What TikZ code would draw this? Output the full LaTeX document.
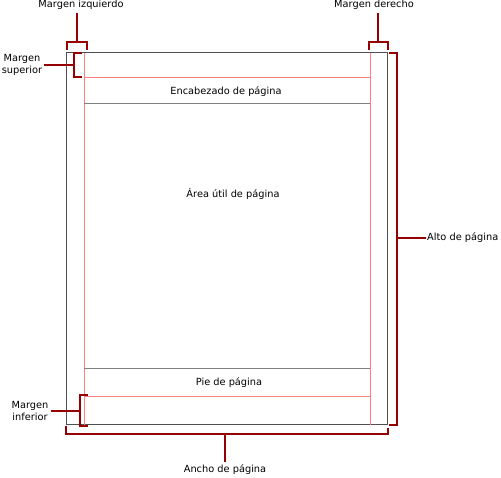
\documentclass[tikz,border=0pt]{standalone}
\usepackage{fontspec}
\setmainfont{DejaVu Sans}
\definecolor{marco}{RGB}{150,0,0}
\definecolor{guia}{RGB}{255,128,128}
\definecolor{borde}{RGB}{80,80,80}
\definecolor{linea}{RGB}{128,128,128}
\tikzset{
    lbl/.style={font=\fontsize{9.8}{12.5}\selectfont,inner sep=1pt,align=center},
    brk/.style={draw=marco,line width=2pt},
    guide/.style={draw=guia,line width=0.8pt},
}
\begin{document}
\begin{tikzpicture}[x=1pt,y=-1pt]
        \useasboundingbox (0,0) rectangle (501,478);
        % hoja y margenes
        \draw[borde,line width=1pt] (66,53) rectangle (387,425);
        \foreach \x in {84,370}
        {
            \draw[guide] (\x,53) -- (\x,425);
        }
        \foreach \y in {77,396}
        {
            \draw[guide] (84,\y) -- (370,\y);
        }
        \foreach \y in {104,369}
        {
            \draw[linea,line width=1pt] (84,\y) -- (370,\y);
        }
        \node[lbl] (enc) at (226,92) {Encabezado de página};
        \node[lbl] (area) at (233,194) {Área útil de página};
        \node[lbl] (pie) at (229,383) {Pie de página};
        % etiquetas
        \node[lbl] (izq) at (81,5) {Margen izquierdo};
        \node[lbl] (der) at (374,5) {Margen derecho};
        \node[lbl] (sup) at (22,65) {Margen\\superior};
        \node[lbl] (inf) at (30,411) {Margen\\inferior};
        \node[lbl,anchor=west] (alto) at (426,238) {Alto de página};
        \node[lbl] (ancho) at (225,470) {Ancho de página};
        % llaves
        \coordinate (cIzq) at (77,42);
        \coordinate (cDer) at (378,42);
        \coordinate (cSup) at (74,65);
        \coordinate (cInf) at (80,411);
        \coordinate (cAlto) at (397,238);
        \coordinate (cAncho) at (225,434);
        \draw[brk] (67,50) -- (67,42) -- (87,42) -- (87,50);
        \draw[brk] (369,50) -- (369,42) -- (388,42) -- (388,50);
        \draw[brk] (82,53) -- (74,53) -- (74,77) -- (82,77);
        \draw[brk] (88,395) -- (80,395) -- (80,426) -- (88,426);
        \draw[brk] (389,53) -- (397,53) -- (397,425) -- (389,425);
        \draw[brk] (66,426) -- (66,434) -- (388,434) -- (388,428);
        \draw[brk,shorten >=2pt] (cIzq) -- (cIzq |- izq.south);
        \draw[brk,shorten >=2pt] (cDer) -- (cDer |- der.south);
        \draw[brk,shorten >=1pt] (cSup) -- (sup.east |- cSup);
        \draw[brk,shorten >=1pt] (cInf) -- (inf.east |- cInf);
        \draw[brk] (cAlto) -- (alto.west);
        \draw[brk,shorten >=2pt] (cAncho) -- (cAncho |- ancho.north);
\end{tikzpicture}
\end{document}
